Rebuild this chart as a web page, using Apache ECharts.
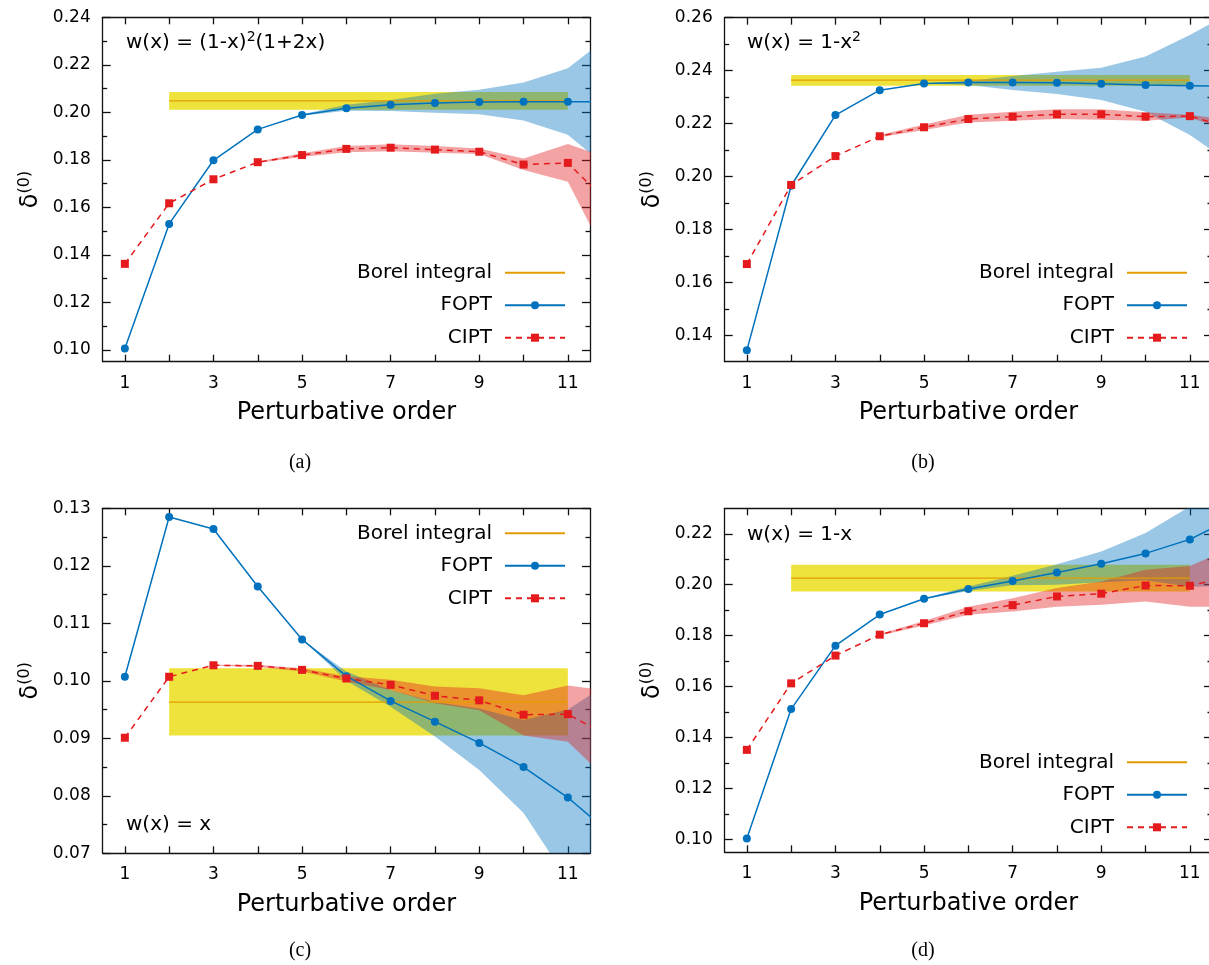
<!DOCTYPE html>
<html><head><meta charset="utf-8">
<script src="https://cdn.jsdelivr.net/npm/echarts@6/dist/echarts.min.js"></script>
<style>html,body{margin:0;padding:0;background:#fff}#c{width:1209px;height:965px}</style>
</head><body><div id="c"></div>
<script>
// ---------------- DATA ----------------
const orders = [1,2,3,4,5,6,7,8,9,10,11,12];
const xTickValues = [1,2,3,4,5,6,7,8,9,10,11];
const xTickLabels = [1,3,5,7,9,11];
const borelX = [2, 11];
const foptBandX = [5,6,7,8,9,10,11,12];
const ciptBandXA = [4,5,6,7,8,9,10,11,12];
const ciptBandXB = [4,5,6,7,8,9,10,11,12];
const ciptBandXC = [3,4,5,6,7,8,9,10,11,12];
const ciptBandXD = [4,5,6,7,8,9,10,11,12];

// (a) w(x) = (1-x)^2(1+2x)
const foptA = [0.1006,0.1530,0.1798,0.1928,0.1989,0.2017,0.2032,0.2039,0.2043,0.2044,0.2044,0.2044];
const ciptA = [0.1362,0.1617,0.1718,0.1790,0.1820,0.1846,0.1851,0.1843,0.1834,0.1780,0.1787,0.1601];
const foptLoA = [0.1986,0.2007,0.2005,0.1998,0.1992,0.1965,0.1905,0.1750];
const foptUpA = [0.1992,0.2032,0.2052,0.2078,0.2095,0.2125,0.2185,0.2330];
const ciptLoA = [0.1787,0.1812,0.1832,0.1836,0.1830,0.1824,0.1757,0.1708,0.1344];
const ciptUpA = [0.1793,0.1828,0.1858,0.1865,0.1858,0.1848,0.1806,0.1867,0.1801];
const borelA = [0.2048, 0.2011, 0.2085]; // central, low, high

// (b) w(x) = 1-x^2
const foptB = [0.1343,0.1965,0.2232,0.2326,0.2351,0.2355,0.2355,0.2354,0.2350,0.2346,0.2343,0.2340];
const ciptB = [0.1669,0.1968,0.2077,0.2152,0.2186,0.2217,0.2226,0.2235,0.2235,0.2226,0.2228,0.2180];
const foptLoB = [0.2350,0.2346,0.2327,0.2312,0.2289,0.2245,0.2157,0.2040];
const foptUpB = [0.2352,0.2361,0.2380,0.2396,0.2411,0.2453,0.2535,0.2626];
const ciptLoB = [0.2148,0.2176,0.2204,0.2211,0.2217,0.2214,0.2211,0.2223,0.2166];
const ciptUpB = [0.2157,0.2196,0.2233,0.2245,0.2254,0.2254,0.2243,0.2233,0.2212];
const borelB = [0.2364, 0.2343, 0.2383];

// (c) w(x) = x
const foptC = [0.1007,0.1285,0.1264,0.1164,0.1072,0.1008,0.0965,0.0929,0.0892,0.0850,0.0797,0.0731];
const ciptC = [0.0901,0.1007,0.1027,0.1026,0.1019,0.1004,0.0993,0.0974,0.0966,0.0941,0.0942,0.0900];
const foptLoC = [0.1072,0.1000,0.0955,0.0903,0.0845,0.0770,0.0653,0.0500];
const foptUpC = [0.1072,0.1016,0.0984,0.0963,0.0952,0.0932,0.0950,0.1000];
const ciptLoC = [0.1026,0.1024,0.1016,0.0999,0.0984,0.0961,0.0949,0.0905,0.0894,0.0820];
const ciptUpC = [0.1028,0.1028,0.1022,0.1008,0.1002,0.0990,0.0987,0.0975,0.0992,0.0982];
const borelC = [0.0963, 0.0905, 0.1022];

// (d) w(x) = 1-x
const foptD = [0.1004,0.1512,0.1761,0.1883,0.1945,0.1983,0.2015,0.2048,0.2082,0.2123,0.2178,0.2264];
const ciptD = [0.1352,0.1613,0.1722,0.1804,0.1849,0.1896,0.1920,0.1954,0.1965,0.1997,0.1996,0.2036];
const foptLoD = [0.1943,0.1975,0.1998,0.2000,0.2010,0.2018,0.1992,0.1995];
const foptUpD = [0.1947,0.1993,0.2035,0.2080,0.2130,0.2203,0.2307,0.2450];
const ciptLoD = [0.1801,0.1840,0.1882,0.1895,0.1914,0.1921,0.1934,0.1914,0.1914];
const ciptUpD = [0.1807,0.1858,0.1914,0.1947,0.1987,0.2013,0.2059,0.2074,0.2148];
const borelD = [0.2026, 0.1973, 0.2078];

// y ticks
const yMajorA = [0.10,0.12,0.14,0.16,0.18,0.20,0.22,0.24];
const yMinorA = [0.11,0.13,0.15,0.17,0.19,0.21,0.23];
const yMajorB = [0.14,0.16,0.18,0.20,0.22,0.24,0.26];
const yMinorB = [0.15,0.17,0.19,0.21,0.23,0.25];
const yMajorC = [0.07,0.08,0.09,0.10,0.11,0.12,0.13];
const yMinorC = [0.075,0.085,0.095,0.105,0.115,0.125];
const yMajorD = [0.10,0.12,0.14,0.16,0.18,0.20,0.22];
const yMinorD = [0.11,0.13,0.15,0.17,0.19,0.21];

const labelsText = ['Borel integral','FOPT','CIPT'];
const captions = ['(a)','(b)','(c)','(d)'];

// ---------------- LAYOUT / STYLE ----------------
const FONT = 'DejaVu Sans';
const BLUE = '#0072bd', RED = '#e41a1c', ORANGE = '#e39b00';
const YELLOW = 'rgb(238,227,60)', BLUE_BAND = 'rgba(0,114,189,0.4)', RED_BAND = 'rgba(228,26,28,0.4)';
const panels = [
  {grid:{left:102.7, top:17.3, right:619, bottom:603.3}, ymin:0.095, ymax:0.24, major:yMajorA, minor:yMinorA,
   fopt:foptA, cipt:ciptA, fLo:foptLoA, fUp:foptUpA, cX:ciptBandXA, cLo:ciptLoA, cUp:ciptUpA, borel:borelA,
   legend:{right:643, top:262.7}},
  {grid:{left:724.7, top:17.7, right:-3, bottom:603.3}, ymin:0.13, ymax:0.26, major:yMajorB, minor:yMinorB,
   fopt:foptB, cipt:ciptB, fLo:foptLoB, fUp:foptUpB, cX:ciptBandXB, cLo:ciptLoB, cUp:ciptUpB, borel:borelB,
   legend:{right:21, top:262.7}},
  {grid:{left:102.7, top:508.3, right:619, bottom:111.7}, ymin:0.07, ymax:0.13, major:yMajorC, minor:yMinorC,
   fopt:foptC, cipt:ciptC, fLo:foptLoC, fUp:foptUpC, cX:ciptBandXC, cLo:ciptLoC, cUp:ciptUpC, borel:borelC,
   legend:{right:643, top:523.3}},
  {grid:{left:724.7, top:508.3, right:-3, bottom:112.7}, ymin:0.095, ymax:0.23, major:yMajorD, minor:yMinorD,
   fopt:foptD, cipt:ciptD, fLo:foptLoD, fUp:foptUpD, cX:ciptBandXD, cLo:ciptLoD, cUp:ciptUpD, borel:borelD,
   legend:{right:21, top:752.3}}
];

const axisColor = '#111';
const grids = [], xAxes = [], yAxes = [], series = [], legends = [];

function bandSeries(g, id, xs, lo, up, fill, z) {
  const rows = xs.map((x,i)=>[x, lo[i], up[i]]);
  return {
    type:'custom', name:id, xAxisIndex:2*g, yAxisIndex:4*g, clip:true, silent:true, z:z,
    encode:{x:0, y:[1,2]}, data:rows,
    renderItem:function(params, api){
      if (params.dataIndex !== 0) return null;
      const pts = [];
      for (let i = 0; i < rows.length; i++) pts.push(api.coord([rows[i][0], rows[i][2]]));
      for (let i = rows.length-1; i >= 0; i--) pts.push(api.coord([rows[i][0], rows[i][1]]));
      return {type:'polygon', shape:{points:pts}, style:{fill:fill, stroke:null}};
    }
  };
}

panels.forEach((p, g) => {
  grids.push(Object.assign({outerBoundsMode:'none', containLabel:false}, p.grid));
  const xBase = {gridIndex:g, type:'value', min:0.5, max:11.5, splitLine:{show:false},
    axisLine:{show:true, onZero:false, lineStyle:{color:axisColor, width:1.3}},
    axisTick:{show:true, inside:true, length:7, customValues:xTickValues, lineStyle:{color:axisColor, width:1.3}}};
  xAxes.push(Object.assign({}, xBase, {position:'bottom',
    axisLabel:{show:true, customValues:xTickLabels, margin:13, fontSize:17, fontFamily:FONT, color:'#000'},
    name:'Perturbative order', nameLocation:'middle', nameGap:39, nameMoveOverlap:false,
    nameTextStyle:{fontSize:24, fontFamily:FONT, color:'#000'}}));
  xAxes.push(Object.assign({}, xBase, {position:'top', axisLabel:{show:false}}));
  const yBase = {gridIndex:g, type:'value', min:p.ymin, max:p.ymax, splitLine:{show:false}};
  const tickStyle = {color:axisColor, width:1.3};
  yAxes.push(Object.assign({}, yBase, {position:'left',
    axisLine:{show:true, onZero:false, lineStyle:{color:axisColor, width:1.3}},
    axisTick:{show:true, inside:true, length:8, customValues:p.major, lineStyle:tickStyle},
    axisLabel:{show:true, customValues:p.major, margin:12, fontSize:17, fontFamily:FONT, color:'#000',
      formatter:v=>Number(v).toFixed(2)},
    name:'{d|δ}{s|(0)}', nameLocation:'middle', nameRotate:90, nameGap:58, nameMoveOverlap:false,
    nameTextStyle:{fontFamily:FONT, color:'#000', fontSize:23,
      rich:{d:{fontSize:24, fontFamily:FONT, color:'#000', lineHeight:28},
            s:{fontSize:16, fontFamily:FONT, color:'#000', verticalAlign:'top', lineHeight:28}}}}));
  yAxes.push(Object.assign({}, yBase, {position:'left', axisLine:{show:false},
    axisTick:{show:true, inside:true, length:4.5, customValues:p.minor, lineStyle:tickStyle},
    axisLabel:{show:false}}));
  yAxes.push(Object.assign({}, yBase, {position:'right',
    axisLine:{show:true, onZero:false, lineStyle:{color:axisColor, width:1.3}},
    axisTick:{show:true, inside:true, length:8, customValues:p.major, lineStyle:tickStyle},
    axisLabel:{show:false}}));
  yAxes.push(Object.assign({}, yBase, {position:'right', axisLine:{show:false},
    axisTick:{show:true, inside:true, length:4.5, customValues:p.minor, lineStyle:tickStyle},
    axisLabel:{show:false}}));

  const xi = 2*g, yi = 4*g;
  series.push(bandSeries(g, 'borelband'+g, borelX, [p.borel[1], p.borel[1]], [p.borel[2], p.borel[2]], YELLOW, 1));
  series.push(bandSeries(g, 'foptband'+g, foptBandX, p.fLo, p.fUp, BLUE_BAND, 2));
  series.push(bandSeries(g, 'ciptband'+g, p.cX, p.cLo, p.cUp, RED_BAND, 3));
  series.push({type:'line', name:labelsText[0], xAxisIndex:xi, yAxisIndex:yi, symbol:'none', z:4, silent:true,
    lineStyle:{color:ORANGE, width:1.3}, itemStyle:{color:ORANGE},
    data: borelX.map(x=>[x, p.borel[0]])});
  series.push({type:'line', name:labelsText[1], xAxisIndex:xi, yAxisIndex:yi, symbol:'circle', symbolSize:8, z:5,
    showAllSymbol:true, lineStyle:{color:BLUE, width:1.5}, itemStyle:{color:BLUE},
    data: orders.map((x,i)=>[x, p.fopt[i]])});
  series.push({type:'line', name:labelsText[2], xAxisIndex:xi, yAxisIndex:yi, symbol:'rect', symbolSize:8, z:6,
    showAllSymbol:true, lineStyle:{color:RED, width:1.5, type:[6,5]}, itemStyle:{color:RED},
    data: orders.map((x,i)=>[x, p.cipt[i]])});

  legends.push({orient:'vertical', right:p.legend.right, top:p.legend.top, align:'right', padding:0,
    itemWidth:60, itemHeight:10, itemGap:12.5, selectedMode:false, z:10,
    data:[{name:labelsText[0], itemStyle:{opacity:0}}, {name:labelsText[1], lineStyle:{width:2}}, labelsText[2]],
    textStyle:{fontSize:20, fontFamily:FONT, color:'#000', padding:[0,8,0,0]}});
});

const txt = (x, y, text, extra) => ({type:'text', x:x, y:y, z:100, zlevel:0,
  style:Object.assign({text:text, fill:'#000', verticalAlign:'middle', textVerticalAlign:'middle'}, extra)});
const richSup = {n:{fontSize:20, fontFamily:FONT, fill:'#000', lineHeight:26},
                 s:{fontSize:14, fontFamily:FONT, fill:'#000', verticalAlign:'top', lineHeight:26}};
const graphics = [
  txt(126, 43, '{n|w(x) = (1-x)}{s|2}{n|(1+2x)}', {rich:richSup}),
  txt(747, 43, '{n|w(x) = 1-x}{s|2}', {rich:richSup}),
  txt(126, 825, 'w(x) = x', {font:'20px "DejaVu Sans"'}),
  txt(747, 535, 'w(x) = 1-x', {font:'20px "DejaVu Sans"'}),
  txt(300, 463, captions[0], {font:'20px "Liberation Serif"', align:'center', textAlign:'center'}),
  txt(923, 463, captions[1], {font:'20px "Liberation Serif"', align:'center', textAlign:'center'}),
  txt(300, 951, captions[2], {font:'20px "Liberation Serif"', align:'center', textAlign:'center'}),
  txt(923, 951, captions[3], {font:'20px "Liberation Serif"', align:'center', textAlign:'center'})
];

const chart = echarts.init(document.getElementById('c'), null, {renderer:'canvas'});
chart.setOption({
  animation:false, backgroundColor:'#fff',
  grid:grids, xAxis:xAxes, yAxis:yAxes, series:series, legend:legends, graphic:graphics,
  tooltip:{show:false}
});
</script></body></html>
